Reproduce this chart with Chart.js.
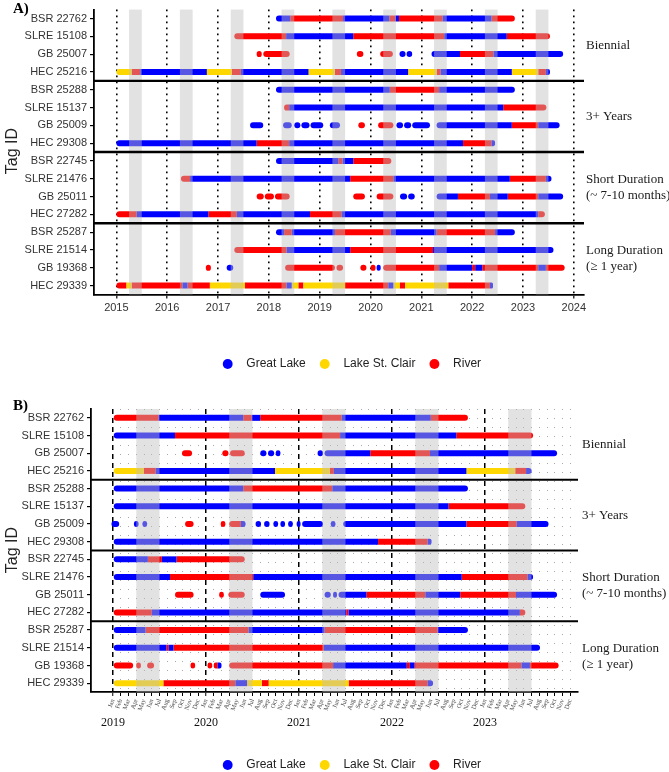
<!DOCTYPE html>
<html>
<head>
<meta charset="utf-8">
<script src="https://cdn.jsdelivr.net/npm/chart.js@4.4.1/dist/chart.umd.min.js"></script>
<style>
  html, body { margin: 0; padding: 0; background: #fff; }
  body { width: 669px; height: 772px; position: relative; overflow: hidden; font-family: "Liberation Sans", Arial, sans-serif; }
  canvas { position: absolute; left: 0; }
  #chartA { top: 0; }
  #chartB { top: 385px; }
  .panel { position: absolute; left: 13px; font: bold 15px "Liberation Serif", "Times New Roman", serif; color: #000; }
  .ylab { position: absolute; left: 12px; font-size: 16px; color: #222; white-space: nowrap; transform: translate(-50%, -50%) rotate(-90deg); }
</style>
</head>
<body>
<canvas id="chartA" width="669" height="380"></canvas>
<canvas id="chartB" width="669" height="396"></canvas>
<div class="panel" style="top:0px">A)</div>
<div class="panel" style="top:397px">B)</div>
<div class="ylab" style="top:151px">Tag ID</div>
<div class="ylab" style="top:550px">Tag ID</div>
<script>
const tagIds = ['BSR 22762', 'SLRE 15108', 'GB 25007', 'HEC 25216',
  'BSR 25288', 'SLRE 15137', 'GB 25009', 'HEC 29308',
  'BSR 22745', 'SLRE 21476', 'GB 25011', 'HEC 27282',
  'BSR 25287', 'SLRE 21514', 'GB 19368', 'HEC 29339'];
const groupNames = [['Biennial'], ['3+ Years'], ['Short Duration', '(~ 7-10 months)'], ['Long Duration', '(\u2265 1 year)']];
const habitats = ['Great Lake', 'Lake St. Clair', 'River'];
const habitatColors = ['#0000ff', '#ffd700', '#ff0000'];

// panel A: calendar years
const yearTicksA = [2015, 2016, 2017, 2018, 2019, 2020, 2021, 2022, 2023, 2024];
const bandsA = [[2015.25, 2015.5], [2016.25, 2016.5], [2017.25, 2017.5], [2018.25, 2018.5], [2019.25, 2019.5],
  [2020.25, 2020.5], [2021.25, 2021.5], [2022.25, 2022.5], [2023.25, 2023.5]];

// [tag, start, end] in decimal years
const greatLakeA = [
  ['BSR 22762', 2018.14, 2018.42], ['BSR 22762', 2019.46, 2020.37], ['BSR 22762', 2020.49, 2020.56], ['BSR 22762', 2021.42, 2022.38],
  ['SLRE 15108', 2018.34, 2019.66], ['SLRE 15108', 2021.45, 2022.68],
  ['GB 25007', 2020.57, 2020.69], ['GB 25007', 2020.71, 2020.82], ['GB 25007', 2021.2, 2021.76], ['GB 25007', 2022.42, 2023.79],
  ['HEC 25216', 2015.47, 2016.78], ['HEC 25216', 2017.45, 2018.78], ['HEC 25216', 2019.42, 2020.74], ['HEC 25216', 2021.38, 2022.78], ['HEC 25216', 2023.45, 2023.53],
  ['BSR 25288', 2018.14, 2020.38], ['BSR 25288', 2021.35, 2022.84],
  ['SLRE 15137', 2018.4, 2022.61],
  ['GB 25009', 2017.63, 2017.89], ['GB 25009', 2018.28, 2018.45], ['GB 25009', 2018.5, 2018.62], ['GB 25009', 2018.64, 2018.8],
  ['GB 25009', 2018.82, 2019.07], ['GB 25009', 2019.2, 2019.4], ['GB 25009', 2020.51, 2020.64], ['GB 25009', 2020.66, 2020.8],
  ['GB 25009', 2020.82, 2021.17], ['GB 25009', 2021.3, 2022.78], ['GB 25009', 2023.3, 2023.72],
  ['HEC 29308', 2015, 2017.76], ['HEC 29308', 2018.4, 2021.82], ['HEC 29308', 2022.38, 2022.45],
  ['BSR 22745', 2018.14, 2019.37], ['BSR 22745', 2019.45, 2019.66],
  ['SLRE 21476', 2016.45, 2019.6], ['SLRE 21476', 2020.45, 2022.74], ['SLRE 21476', 2023.45, 2023.56],
  ['GB 25011', 2020.58, 2020.72], ['GB 25011', 2020.74, 2020.87], ['GB 25011', 2021.3, 2021.72], ['GB 25011', 2022.35, 2022.7], ['GB 25011', 2023.3, 2023.79],
  ['HEC 27282', 2015.4, 2016.81], ['HEC 27282', 2017.37, 2018.81], ['HEC 27282', 2019.43, 2023.3],
  ['BSR 25287', 2018.14, 2018.3], ['BSR 25287', 2018.45, 2019.3], ['BSR 25287', 2020.4, 2021.3], ['BSR 25287', 2022.45, 2022.84],
  ['SLRE 21514', 2018.35, 2019.6], ['SLRE 21514', 2021.23, 2023.6],
  ['GB 19368', 2017.17, 2017.3], ['GB 19368', 2020.12, 2020.2], ['GB 19368', 2021.35, 2022.0], ['GB 19368', 2022.06, 2022.2], ['GB 19368', 2023.3, 2023.45],
  ['HEC 29339', 2016.3, 2016.4], ['HEC 29339', 2018.35, 2018.45], ['HEC 29339', 2020.35, 2020.45], ['HEC 29339', 2022.35, 2022.41]
];
const stClairA = [
  ['HEC 25216', 2015, 2015.3], ['HEC 25216', 2016.78, 2017.27], ['HEC 25216', 2018.78, 2019.3], ['HEC 25216', 2020.74, 2021.3], ['HEC 25216', 2022.78, 2023.3],
  ['HEC 29339', 2015.2, 2015.3], ['HEC 29339', 2016.84, 2017.53], ['HEC 29339', 2018.45, 2018.58], ['HEC 29339', 2018.68, 2019.5],
  ['HEC 29339', 2020.45, 2020.58], ['HEC 29339', 2020.68, 2021.53]
];
const riverA = [
  ['BSR 22762', 2018.42, 2019.46], ['BSR 22762', 2020.37, 2020.49], ['BSR 22762', 2020.56, 2021.42], ['BSR 22762', 2022.38, 2022.84],
  ['SLRE 15108', 2017.32, 2018.34], ['SLRE 15108', 2019.66, 2021.45], ['SLRE 15108', 2022.68, 2023.53],
  ['GB 25007', 2017.76, 2017.86], ['GB 25007', 2017.89, 2018.41], ['GB 25007', 2019.73, 2019.86], ['GB 25007', 2020.19, 2020.44], ['GB 25007', 2021.76, 2022.42],
  ['HEC 25216', 2015.3, 2015.47], ['HEC 25216', 2017.27, 2017.45], ['HEC 25216', 2019.3, 2019.42], ['HEC 25216', 2021.3, 2021.38], ['HEC 25216', 2023.3, 2023.45],
  ['BSR 25288', 2020.38, 2021.35],
  ['SLRE 15137', 2018.3, 2018.4], ['SLRE 15137', 2022.61, 2023.46],
  ['GB 25009', 2019.76, 2019.89], ['GB 25009', 2020.15, 2020.45], ['GB 25009', 2022.78, 2023.3],
  ['HEC 29308', 2017.76, 2018.4], ['HEC 29308', 2021.82, 2022.38],
  ['BSR 22745', 2019.37, 2019.45], ['BSR 22745', 2019.66, 2020.41],
  ['SLRE 21476', 2016.27, 2016.45], ['SLRE 21476', 2019.6, 2020.45], ['SLRE 21476', 2022.74, 2023.45],
  ['GB 25011', 2017.76, 2017.9], ['GB 25011', 2017.92, 2018.1], ['GB 25011', 2018.12, 2018.41], ['GB 25011', 2019.66, 2019.89],
  ['GB 25011', 2020.12, 2020.45], ['GB 25011', 2021.72, 2022.35], ['GB 25011', 2022.7, 2023.3],
  ['HEC 27282', 2015, 2015.4], ['HEC 27282', 2016.81, 2017.37], ['HEC 27282', 2018.81, 2019.43], ['HEC 27282', 2023.3, 2023.43],
  ['BSR 25287', 2018.3, 2018.45], ['BSR 25287', 2019.3, 2020.4], ['BSR 25287', 2021.3, 2022.45],
  ['SLRE 21514', 2017.32, 2018.35], ['SLRE 21514', 2019.6, 2021.23],
  ['GB 19368', 2016.76, 2016.86], ['GB 19368', 2018.32, 2019.3], ['GB 19368', 2019.33, 2019.46], ['GB 19368', 2019.8, 2019.92],
  ['GB 19368', 2020.0, 2020.1], ['GB 19368', 2020.25, 2021.35], ['GB 19368', 2022.0, 2022.06], ['GB 19368', 2022.2, 2023.3], ['GB 19368', 2023.45, 2023.82],
  ['HEC 29339', 2015, 2015.2], ['HEC 29339', 2015.3, 2016.3], ['HEC 29339', 2016.4, 2016.84], ['HEC 29339', 2017.53, 2018.35],
  ['HEC 29339', 2018.58, 2018.68], ['HEC 29339', 2019.5, 2020.35], ['HEC 29339', 2020.58, 2020.68], ['HEC 29339', 2021.53, 2022.35]
];

// panel B: months, 0 = Jan 2019
const yearsB = ['2019', '2020', '2021', '2022', '2023'];
const monthNames = ['Jan', 'Feb', 'Mar', 'Apr', 'May', 'Jun', 'Jul', 'Aug', 'Sep', 'Oct', 'Nov', 'Dec'];
const bandsB = [[3, 6], [15, 18], [27, 30], [39, 42], [51, 54]];

const greatLakeB = [
  ['BSR 22762', 5.9, 16.8], ['BSR 22762', 17.9, 19], ['BSR 22762', 29.5, 41],
  ['SLRE 15108', 0, 8], ['SLRE 15108', 29.3, 44.3],
  ['GB 25007', 19, 19.8], ['GB 25007', 20, 20.8], ['GB 25007', 21, 21.6], ['GB 25007', 26.4, 27.1], ['GB 25007', 27.3, 33.2], ['GB 25007', 40.9, 57.3],
  ['HEC 25216', 5.5, 20.9], ['HEC 25216', 28.5, 45.6], ['HEC 25216', 53.3, 54],
  ['BSR 25288', 0, 16.8], ['BSR 25288', 28.3, 45.8],
  ['SLRE 15137', 0, 43.3],
  ['GB 25009', -0.2, 0.8], ['GB 25009', 2.7, 3.3], ['GB 25009', 3.8, 4.4], ['GB 25009', 16.5, 17.1], ['GB 25009', 18.4, 19.1],
  ['GB 25009', 19.5, 20.2], ['GB 25009', 20.7, 21.3], ['GB 25009', 21.6, 22.2], ['GB 25009', 22.6, 23.2], ['GB 25009', 23.7, 24.2],
  ['GB 25009', 24.4, 27.1], ['GB 25009', 28.1, 28.7], ['GB 25009', 29.7, 45.6], ['GB 25009', 52.1, 56.2],
  ['HEC 29308', 0, 34.2], ['HEC 29308', 40.6, 41.1],
  ['BSR 22745', 0, 4.5], ['BSR 22745', 6.3, 8.2],
  ['SLRE 21476', 0, 7.35], ['SLRE 21476', 18.1, 45], ['SLRE 21476', 53.5, 54.2],
  ['GB 25011', 19, 22.2], ['GB 25011', 27.3, 28.1], ['GB 25011', 28.4, 28.9], ['GB 25011', 29.1, 32.7], ['GB 25011', 40.3, 44.8], ['GB 25011', 52, 57.3],
  ['HEC 27282', 5, 30.1], ['HEC 27282', 30.4, 52.5],
  ['BSR 25287', 0, 4.2], ['BSR 25287', 17.5, 27.3], ['BSR 25287', 41.9, 45.8],
  ['SLRE 21514', 0, 6.9], ['SLRE 21514', 7.2, 7.8], ['SLRE 21514', 27.2, 55.1],
  ['GB 19368', 13.5, 14], ['GB 19368', 28.4, 37.9], ['GB 19368', 38.3, 38.9], ['GB 19368', 52.7, 53.8],
  ['HEC 29339', 15.8, 17.3], ['HEC 29339', 40.6, 41.3]
];
const stClairB = [
  ['HEC 25216', 0, 4], ['HEC 25216', 20.9, 28], ['HEC 25216', 45.6, 51.9],
  ['HEC 29339', 0, 6.5], ['HEC 29339', 17.3, 19.2], ['HEC 29339', 20.1, 30.4]
];
const riverB = [
  ['BSR 22762', 0, 5.9], ['BSR 22762', 16.8, 17.9], ['BSR 22762', 19, 29.5], ['BSR 22762', 41, 45.8],
  ['SLRE 15108', 8, 29.3], ['SLRE 15108', 44.3, 54.2],
  ['GB 25007', 8.9, 10.2], ['GB 25007', 14.1, 14.9], ['GB 25007', 15.1, 17], ['GB 25007', 33.2, 40.9],
  ['HEC 25216', 4, 5.5], ['HEC 25216', 28, 28.5], ['HEC 25216', 51.9, 53.3],
  ['BSR 25288', 16.8, 28.3],
  ['SLRE 15137', 43.3, 53.2],
  ['GB 25009', 9.3, 10.4], ['GB 25009', 13.9, 14.5], ['GB 25009', 15, 16.5], ['GB 25009', 45.6, 52.1],
  ['HEC 29308', 34.2, 40.6],
  ['BSR 22745', 4.5, 6.3], ['BSR 22745', 8.2, 17],
  ['SLRE 21476', 7.35, 18.1], ['SLRE 21476', 45, 53.5],
  ['GB 25011', 8, 10.4], ['GB 25011', 13.7, 14.3], ['GB 25011', 14.9, 17], ['GB 25011', 32.7, 40.3], ['GB 25011', 44.8, 52],
  ['HEC 27282', 0, 5], ['HEC 27282', 30.1, 30.4], ['HEC 27282', 52.5, 53.2],
  ['BSR 25287', 4.2, 17.5], ['BSR 25287', 27.3, 41.9],
  ['SLRE 21514', 6.9, 7.2], ['SLRE 21514', 7.8, 27.2],
  ['GB 19368', 0, 2.6], ['GB 19368', 3, 3.6], ['GB 19368', 4.4, 5.3], ['GB 19368', 10, 10.6], ['GB 19368', 12.2, 12.8],
  ['GB 19368', 13, 13.5], ['GB 19368', 15, 28.4], ['GB 19368', 37.9, 38.3], ['GB 19368', 38.9, 52.7], ['GB 19368', 53.8, 57.5],
  ['HEC 29339', 6.5, 15.8], ['HEC 29339', 19.2, 20.1], ['HEC 29339', 30.4, 40.6]
];

const SANS = '"Liberation Sans", Arial, sans-serif';
const SERIF = '"Liberation Serif", "Times New Roman", serif';
const CAP = 3;

// ends of a track are rounded, joins between two habitats are square
function buildDatasets(lists) {
  const all = lists.flat();
  return lists.map((list, i) => ({
    label: habitats[i],
    backgroundColor: habitatColors[i],
    borderWidth: 0,
    grouped: false,
    maxBarThickness: 6,
    borderSkipped: false,
    borderRadius: c => {
      const d = c.raw;
      if (!d || !d.x) return 0;
      const l = d.capL ? CAP : 0, r = d.capR ? CAP : 0;
      return { topLeft: l, bottomLeft: l, topRight: r, bottomRight: r };
    },
    data: list.map(([tag, s, e]) => ({
      y: tag, x: [s, e],
      capL: !all.some(o => o[0] === tag && Math.abs(o[2] - s) < 1e-6),
      capR: !all.some(o => o[0] === tag && Math.abs(o[1] - e) < 1e-6)
    }))
  }));
}

const decor = {
  id: 'decor',
  afterLayout(chart, args, o) {
    const lg = chart.legend;
    if (lg && o.legendX != null) {
      const w = lg.right - lg.left;
      lg.left = o.legendX;
      lg.right = o.legendX + w;
    }
  },
  afterDatasetsDraw(chart, args, o) {
    const { ctx, chartArea: a, scales: { x, y } } = chart;
    ctx.save();
    ctx.fillStyle = 'rgba(190,190,190,0.45)';
    o.bands.forEach(([s, e]) => {
      const x1 = x.getPixelForValue(s), x2 = x.getPixelForValue(e);
      ctx.fillRect(x1, a.top, x2 - x1, a.bottom - a.top);
    });
    ctx.strokeStyle = '#000';
    ctx.lineWidth = o.sepWidth;
    [3.5, 7.5, 11.5].forEach(v => {
      const py = y.getPixelForValue(v);
      ctx.beginPath();
      ctx.moveTo(a.left, py);
      ctx.lineTo(a.right, py);
      ctx.stroke();
    });
    ctx.fillStyle = '#1a1a1a';
    ctx.font = '13px ' + SERIF;
    ctx.textAlign = 'left';
    ctx.textBaseline = 'middle';
    groupNames.forEach((lines, g) => {
      const mid = (y.getPixelForValue(g * 4) + y.getPixelForValue(g * 4 + 3)) / 2;
      lines.forEach((t, k) => ctx.fillText(t, a.right + o.labelDx, mid + (k - (lines.length - 1) / 2) * 16));
    });
    ctx.restore();
  }
};

function legendOpts() {
  return {
    position: 'bottom',
    align: 'start',
    labels: {
      usePointStyle: true, pointStyle: 'circle', boxWidth: 12, boxHeight: 7, padding: 13,
      color: '#222', font: { family: SANS, size: 12 },
      generateLabels: c => Chart.defaults.plugins.legend.labels.generateLabels(c).map(l => ({ ...l, text: '  ' + l.text }))
    }
  };
}

function yAxis(width) {
  return {
    afterFit: s => { s.width = width; },
    ticks: { color: '#333', font: { family: SANS, size: 11 }, padding: 3, autoSkip: false },
    grid: { offset: false, drawOnChartArea: false, tickLength: 4, color: '#000', lineWidth: 1.2 },
    border: { color: '#000', width: 1.8 }
  };
}

new Chart(document.getElementById('chartA'), {
  type: 'bar',
  data: { labels: tagIds, datasets: buildDatasets([greatLakeA, stClairA, riverA]) },
  options: {
    responsive: false, animation: false, indexAxis: 'y',
    layout: { padding: { top: 7, right: 85, left: 0, bottom: 0 } },
    scales: {
      x: {
        type: 'linear', min: 2014.56, max: 2024.2,
        afterBuildTicks: s => { s.ticks = yearTicksA.map(v => ({ value: v })); },
        afterFit: s => { s.height = 50.5; },
        ticks: { callback: v => String(v), color: '#333', font: { family: SANS, size: 11 }, padding: 3, maxRotation: 0, autoSkip: false },
        grid: { color: '#000', lineWidth: 1.6, tickLength: 4, tickWidth: 1.2, tickColor: '#000' },
        border: { color: '#000', width: 1.8, dash: [1.6, 4.4] }
      },
      y: yAxis(94)
    },
    plugins: {
      legend: legendOpts(),
      tooltip: { enabled: false },
      decor: { bands: bandsA, sepWidth: 2.4, labelDx: 2, legendX: 208.7 }
    }
  },
  plugins: [decor]
});

new Chart(document.getElementById('chartB'), {
  type: 'bar',
  data: { labels: tagIds, datasets: buildDatasets([greatLakeB, stClairB, riverB]) },
  options: {
    responsive: false, animation: false, indexAxis: 'y',
    layout: { padding: { top: 24, right: 91, left: 0, bottom: 0 } },
    scales: {
      x: {
        type: 'linear', min: -2.84, max: 60, weight: 0,
        afterBuildTicks: s => { s.ticks = []; for (let m = 0; m < 60; m++) s.ticks.push({ value: m }); },
        afterFit: s => { s.height = 21; },
        ticks: { callback: v => monthNames[v % 12], color: '#444', font: { family: SERIF, size: 6.5 }, padding: 2, minRotation: 70, maxRotation: 70, autoSkip: false },
        grid: {
          color: c => (c.tick && c.tick.value % 12 === 0) ? '#000' : '#a8a8a8',
          lineWidth: c => (c.tick && c.tick.value % 12 === 0) ? 1.5 : 1,
          tickLength: 4, tickWidth: 1, tickColor: '#000'
        },
        border: { color: '#000', width: 1.8, dash: c => (c.tick && c.tick.value % 12 === 0) ? [5, 4] : [1, 8] }
      },
      x2: {
        type: 'linear', position: 'bottom', min: -2.84, max: 60, weight: 1,
        afterBuildTicks: s => { s.ticks = yearsB.map((_, i) => ({ value: i * 12 })); },
        afterFit: s => { s.height = 33; },
        ticks: { callback: (v, i) => yearsB[i], color: '#111', font: { family: SERIF, size: 12 }, padding: 3, maxRotation: 0, autoSkip: false },
        grid: { display: false, drawTicks: false },
        border: { display: false }
      },
      y: yAxis(91)
    },
    plugins: {
      legend: legendOpts(),
      tooltip: { enabled: false },
      decor: { bands: bandsB, sepWidth: 2, labelDx: 4, legendX: 208.7 }
    }
  },
  plugins: [decor]
});
</script>
</body>
</html>
